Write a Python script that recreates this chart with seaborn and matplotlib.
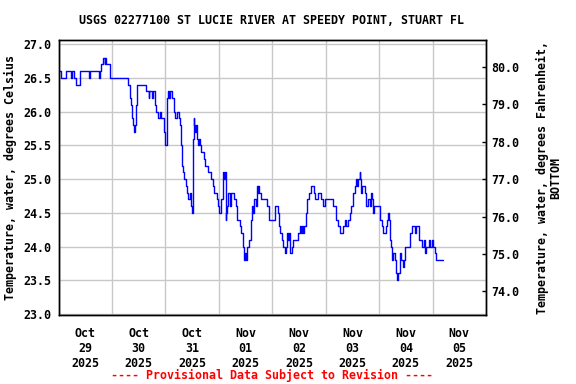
#### TEMPERATURA DA AGUA - USGS 02277100 ST LUCIE RIVER ####

import numpy as np
import pandas as pd
import matplotlib
matplotlib.use('Agg')
import matplotlib.pyplot as plt
import matplotlib.dates as mdates
import matplotlib.ticker as mticker
import seaborn as sns

#### Dados (horas desde 29/10/2025 00:00, graus Celsius) ####
horas = [0, 1.0, 3.5, 5.75, 6.25, 6.75, 7.75, 9.75, 13.5, 14.0, 18.0, 18.75, 19.25,
         20.0, 20.75, 21.0, 21.25, 23.0, 31.25, 32.0, 32.25, 32.75, 33.0, 33.5, 34.0,
         34.5, 34.75, 35.25, 39.5, 40.5, 40.75, 42.0, 42.25, 43.5, 44.0, 44.5, 45.5,
         46.0, 47.25, 47.5, 47.75, 48.0, 48.5, 48.75, 49.0, 49.5, 50.0, 50.75, 51.75,
         52.5, 53.25, 54.0, 54.75, 55.0, 55.5, 56.0, 56.5, 57.25, 57.75, 58.0, 59.25,
         59.5, 59.75, 60.25, 60.75, 61.0, 61.5, 61.75, 62.0, 62.5, 63.0, 63.75, 64.0,
         65.25, 66.0, 67.0, 68.5, 69.25, 70.0, 71.0, 71.5, 72.0, 72.75, 74.0, 74.5,
         74.75, 75.0, 75.25, 75.75, 76.25, 77.0, 77.5, 78.75, 79.5, 80.0, 81.5, 82.0,
         82.75, 83.25, 83.75, 84.0, 84.75, 85.5, 86.25, 86.75, 87.5, 88.0, 88.5, 89.0,
         89.5, 89.75, 90.25, 91.0, 93.75, 94.75, 97.0, 98.5, 99.0, 99.5, 100.5, 101.0,
         101.5, 102.0, 102.5, 103.0, 103.5, 104.0, 104.75, 105.5, 107.5, 108.25, 109.0,
         109.5, 110.0, 110.25, 111.0, 111.5, 112.5, 113.25, 114.75, 115.25, 116.5,
         118.0, 118.75, 119.5, 123.25, 124.75, 125.5, 126.5, 127.75, 128.5, 129.0,
         130.0, 130.75, 131.5, 132.25, 133.0, 133.5, 134.0, 134.5, 135.25, 135.5, 136.0,
         136.25, 137.5, 138.0, 138.25, 139.0, 139.75, 140.5, 141.0, 141.25, 141.5,
         144.25, 144.5, 145.25, 145.75, 147.25, 147.5, 148.0, 148.25, 148.75, 149.0,
         149.5, 149.75, 150.25, 151.25, 151.75, 152.0, 152.5, 153.25, 153.5, 154.0,
         154.5, 155.0, 155.5, 155.75, 157.75, 158.0, 158.75, 160.25, 160.5, 162.0,
         163.25, 164.0, 164.5, 165.0, 166.5, 167.0, 167.75, 168.25, 169.0, 169.75, 172.5]
temp_c = [26.6, 26.5, 26.6, 26.5, 26.6, 26.5, 26.4, 26.6, 26.5, 26.6, 26.5, 26.6, 26.7,
          26.8, 26.7, 26.8, 26.7, 26.5, 26.4, 26.3, 26.2, 26.1, 25.9, 25.8, 25.7,
          25.8, 26.1, 26.4, 26.3, 26.2, 26.3, 26.2, 26.3, 26.1, 26.0, 25.9, 26.0,
          25.9, 25.8, 25.7, 25.6, 25.5, 26.1, 26.2, 26.3, 26.2, 26.3, 26.2, 26.0,
          25.9, 26.0, 25.9, 25.8, 25.5, 25.2, 25.1, 25.0, 24.9, 24.8, 24.7, 24.8,
          24.6, 24.5, 25.6, 25.9, 25.8, 25.7, 25.8, 25.6, 25.5, 25.6, 25.5, 25.4,
          25.3, 25.2, 25.1, 25.0, 24.9, 24.8, 24.7, 24.6, 24.5, 24.7, 25.1, 25.0,
          25.1, 24.4, 24.5, 24.6, 24.8, 24.6, 24.8, 24.7, 24.6, 24.4, 24.3, 24.2,
          24.0, 23.8, 23.9, 23.8, 24.0, 24.1, 24.4, 24.6, 24.5, 24.7, 24.6, 24.9,
          24.8, 24.9, 24.8, 24.7, 24.6, 24.4, 24.6, 24.5, 24.3, 24.2, 24.1, 24.0,
          23.9, 24.0, 24.2, 24.1, 24.2, 23.9, 24.0, 24.1, 24.2, 24.3, 24.2,
          24.3, 24.2, 24.3, 24.5, 24.7, 24.8, 24.9, 24.8, 24.7, 24.8,
          24.7, 24.6, 24.7, 24.6, 24.4, 24.3, 24.2, 24.3, 24.4, 24.3,
          24.4, 24.5, 24.6, 24.8, 24.9, 25.0, 24.9, 25.0, 25.1, 25.0, 24.8,
          24.9, 24.8, 24.7, 24.6, 24.7, 24.6, 24.8, 24.7, 24.5, 24.6,
          24.5, 24.4, 24.3, 24.2, 24.3, 24.4, 24.5, 24.4, 24.3, 24.1,
          24.0, 23.8, 23.9, 23.8, 23.6, 23.5, 23.6, 23.8, 23.9, 23.8,
          23.7, 23.8, 23.9, 24.0, 24.1, 24.2, 24.3, 24.2, 24.3, 24.1,
          24.0, 24.1, 23.9, 24.0, 24.1, 24.0, 24.1, 24.0, 23.9, 23.8, 23.8]

titulo = 'USGS 02277100 ST LUCIE RIVER AT SPEEDY POINT, STUART FL'
rotulo_c = 'Temperature, water, degrees Celsius'
rotulo_f = 'Temperature, water, degrees Fahrenheit,\nBOTTOM'
aviso = '---- Provisional Data Subject to Revision ----'

inicio = pd.Timestamp('2025-10-29 00:00')
fim = pd.Timestamp('2025-11-06 00:00')
df = pd.DataFrame({'data': inicio + pd.to_timedelta(horas, unit='h'), 'temp': temp_c})

#### Estilo ####
TAM = 8.4
sns.set_theme(style='white')
plt.rcParams['font.family'] = ['DejaVu Sans Mono']
plt.rcParams['font.weight'] = 'bold'
plt.rcParams['font.size'] = TAM
plt.rcParams['axes.labelweight'] = 'bold'
plt.rcParams['axes.labelsize'] = TAM

fig = plt.figure(figsize=(5.76, 3.84), dpi=100)
ax = fig.add_axes([0.1016, 0.1797, 0.7422, 0.7161])

sns.lineplot(data=df, x='data', y='temp', ax=ax, color='#0000ff', linewidth=1,
             drawstyle='steps-post', estimator=None, sort=False)

ax.set_xlim(inicio, fim)
ax.set_ylim(22.985, 27.06)
ax.set_yticks(np.arange(23.0, 27.01, 0.5))
ax.yaxis.set_major_formatter(mticker.FormatStrFormatter('%.1f'))

ax.xaxis.set_major_locator(mdates.DayLocator())
ax.xaxis.set_major_formatter(mticker.NullFormatter())
ax.xaxis.set_minor_locator(mdates.HourLocator(byhour=12))
ax.xaxis.set_minor_formatter(mdates.DateFormatter('%b\n%d\n%Y'))
ax.tick_params(axis='x', which='both', length=0, pad=9, colors='black', labelsize=TAM)
ax.tick_params(axis='y', length=0, pad=5.5, colors='black', labelsize=TAM)

ax.grid(True, which='major', color='#c8c8c8', linewidth=1)
ax.set_xlabel('')
ax.set_ylabel(rotulo_c, labelpad=4, color='black', fontsize=TAM)

for s in ax.spines.values():
    s.set_color('black')
    s.set_linewidth(1)

#### Eixo em Fahrenheit ####
ax2 = ax.twinx()
ax2.set_ylim(22.985 * 1.8 + 32, 27.06 * 1.8 + 32)
ax2.set_yticks(np.arange(74.0, 80.01, 1.0))
ax2.yaxis.set_major_formatter(mticker.FormatStrFormatter('%.1f'))
ax2.tick_params(axis='y', direction='in', length=3, width=1, pad=4, colors='black', labelsize=TAM)
ax2.set_ylabel(rotulo_f, labelpad=12, color='black', fontsize=TAM, linespacing=1.0)
ax2.grid(False)
for s in ax2.spines.values():
    s.set_color('black')
    s.set_linewidth(1)

fig.text(0.472, 1 - 20 / 384, titulo, ha='center', va='center', fontsize=TAM, color='black')
fig.text(0.472, 1 - 375 / 384, aviso, ha='center', va='center', fontsize=TAM, color='#ff0000')

plt.savefig('out.png', dpi=100)
plt.close()
